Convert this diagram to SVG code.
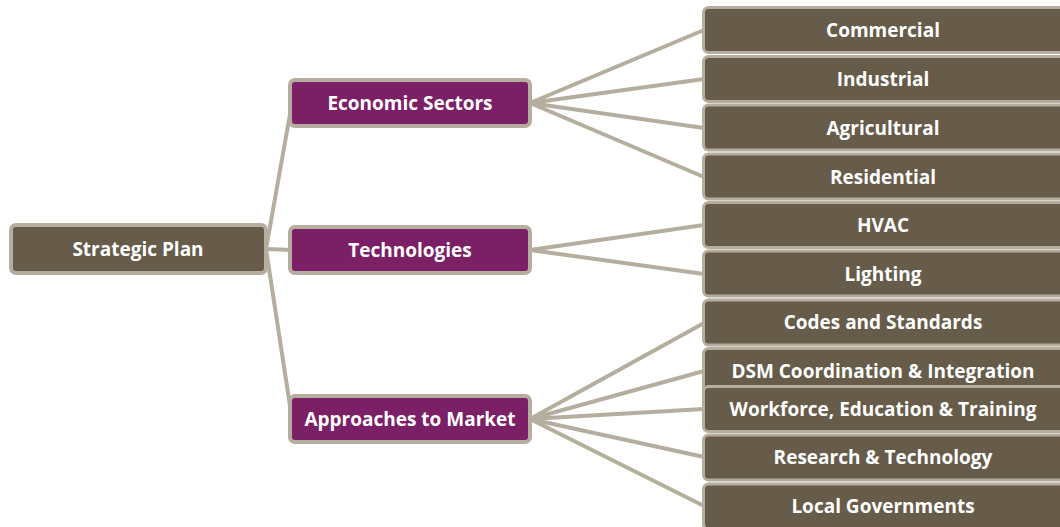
<svg xmlns="http://www.w3.org/2000/svg" width="1060" height="527" viewBox="0 0 1060 527">
<style>
.c{stroke:#b5ae9e;stroke-width:4;fill:none;stroke-linecap:round}
.b{fill:#665c49;stroke:#b5ae9e;stroke-width:3}
.p{fill:#7b1f66;stroke:#b5ae9e;stroke-width:4}
.r{fill:#665c49;stroke:#b5ae9e;stroke-width:4}
text{font-family:"Open Sans",Lato,"Liberation Sans",sans-serif;font-weight:bold;font-size:19px;fill:#ffffff;text-anchor:middle;dominant-baseline:central}
</style>
<rect width="1060" height="527" fill="#ffffff"/>
<g id="connectors">
<line class="c" x1="266" y1="249" x2="292" y2="103"/>
<line class="c" x1="266" y1="249" x2="292" y2="250"/>
<line class="c" x1="266" y1="249" x2="292" y2="419"/>
<line class="c" x1="530" y1="103" x2="704" y2="30"/>
<line class="c" x1="530" y1="103" x2="704" y2="79"/>
<line class="c" x1="530" y1="103" x2="704" y2="128"/>
<line class="c" x1="530" y1="103" x2="704" y2="177"/>
<line class="c" x1="530" y1="250" x2="704" y2="225"/>
<line class="c" x1="530" y1="250" x2="704" y2="274"/>
<line class="c" x1="530" y1="419" x2="704" y2="323"/>
<line class="c" x1="530" y1="419" x2="704" y2="371"/>
<line class="c" x1="530" y1="419" x2="704" y2="409"/>
<line class="c" x1="530" y1="419" x2="704" y2="457"/>
<line class="c" x1="530" y1="419" x2="704" y2="506"/>
</g>
<g id="strategic-plan"><rect class="r" x="11" y="225" width="255" height="48" rx="5"/><text x="138" y="249">Strategic Plan</text></g>
<g id="economic-sectors"><rect class="p" x="290" y="80" width="240" height="46" rx="5"/><text x="410" y="103">Economic Sectors</text></g>
<g id="technologies"><rect class="p" x="290" y="227" width="240" height="46" rx="5"/><text x="410" y="250">Technologies</text></g>
<g id="approaches"><rect class="p" x="290" y="396" width="240" height="46" rx="5"/><text x="410" y="419">Approaches to Market</text></g>
<g id="commercial"><rect class="b" x="703.5" y="7.5" width="362" height="45" rx="5"/><text x="883" y="30">Commercial</text></g>
<g id="industrial"><rect class="b" x="703.5" y="56.5" width="362" height="45" rx="5"/><text x="883" y="79">Industrial</text></g>
<g id="agricultural"><rect class="b" x="703.5" y="105" width="362" height="45" rx="5"/><text x="883" y="127.5">Agricultural</text></g>
<g id="residential"><rect class="b" x="703.5" y="154" width="362" height="45" rx="5"/><text x="883" y="176.5">Residential</text></g>
<g id="hvac"><rect class="b" x="703.5" y="202.5" width="362" height="45" rx="5"/><text x="883" y="225">HVAC</text></g>
<g id="lighting"><rect class="b" x="703.5" y="251" width="362" height="45" rx="5"/><text x="883" y="273.5">Lighting</text></g>
<g id="codes"><rect class="b" x="703.5" y="300" width="362" height="45" rx="5"/><text x="883" y="322">Codes and Standards</text></g>
<g id="dsm"><rect class="b" x="703.5" y="348.5" width="362" height="45" rx="5"/><text x="883" y="370.5">DSM Coordination &amp; Integration</text></g>
<g id="workforce"><rect class="b" x="703.5" y="386.5" width="362" height="45" rx="5"/><text x="883" y="408.5">Workforce, Education &amp; Training</text></g>
<g id="research"><rect class="b" x="703.5" y="435" width="362" height="45" rx="5"/><text x="883" y="457">Research &amp; Technology</text></g>
<g id="local"><rect class="b" x="703.5" y="484" width="362" height="45" rx="5"/><text x="883" y="505.5">Local Governments</text></g>
</svg>
